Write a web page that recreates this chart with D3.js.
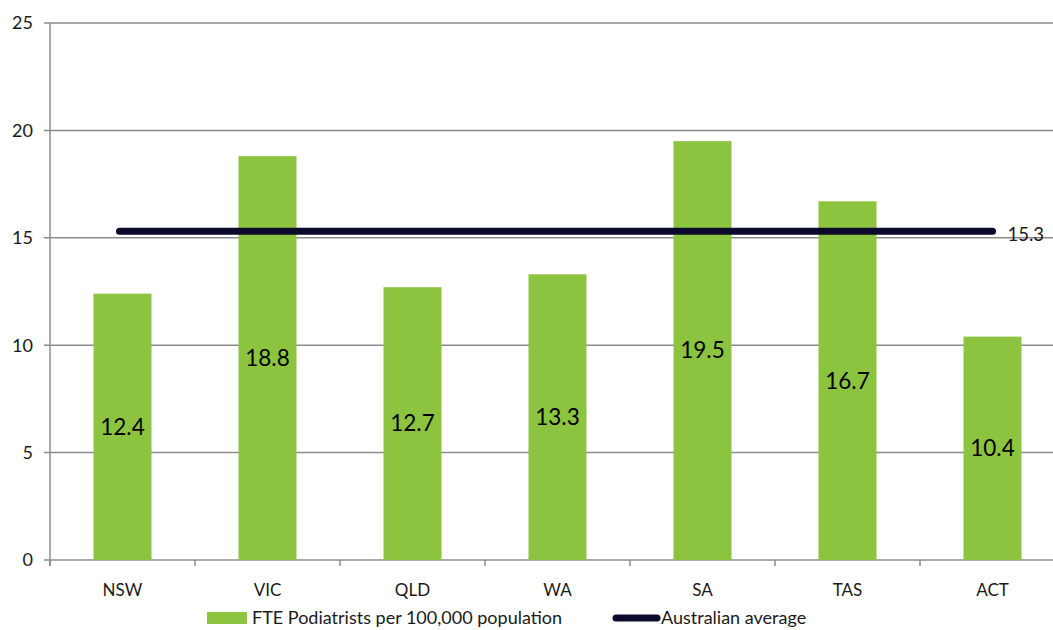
<!DOCTYPE html>
<html>
<head>
<meta charset="utf-8">
<script src="https://cdn.jsdelivr.net/npm/d3@7"></script>
<style>
	body { margin: 0; background: #fff; }
	svg text { font-family: Lato, "Open Sans", sans-serif; fill: #1a1a1a; }
</style>
</head>
<body>
<svg id="chart"></svg>
<script>
'use strict'

var states = ["NSW", "VIC", "QLD", "WA", "SA", "TAS", "ACT"];
var podiatrists = [12.4, 18.8, 12.7, 13.3, 19.5, 16.7, 10.4];
var average = [15.3];
var yTicks = [0, 5, 10, 15, 20, 25];
var legendLabels = ["FTE Podiatrists per 100,000 population", "Australian average"];

var WIDTH = 1053,
	HEIGHT = 630;

var margin = { top: 23, left: 50, bottom: 70 };
var plotRight = 1065; // plot runs slightly past the frame in the source

var barColor = "#8cc43f",
	lineColor = "#0b0a2d",
	gridColor = "#8c8c8c";

var svg = d3.select("#chart")
	.attr("width", WIDTH)
	.attr("height", HEIGHT)

var x = d3.scaleBand()
	.domain(states)
	.range([margin.left, plotRight])
	.paddingInner(0)
	.paddingOuter(0)

var y = d3.scaleLinear()
	.domain([0, 25])
	.range([HEIGHT - margin.bottom, margin.top])

// gridlines
svg.append("g")
	.selectAll("line")
	.data(yTicks)
	.join("line")
	.attr("x1", margin.left - 6)
	.attr("x2", plotRight)
	.attr("y1", function(d) { return y(d) })
	.attr("y2", function(d) { return y(d) })
	.style("stroke", gridColor)
	.style("stroke-width", 1.5)

// y tick labels
svg.append("g")
	.selectAll("text")
	.data(yTicks)
	.join("text")
	.attr("x", 33)
	.attr("y", function(d) { return y(d) })
	.attr("dy", "0.35em")
	.attr("text-anchor", "end")
	.style("font-size", "18px")
	.text(function(d) { return d })

// y axis line
svg.append("line")
	.attr("x1", margin.left)
	.attr("x2", margin.left)
	.attr("y1", y(25))
	.attr("y2", y(0) + 6)
	.style("stroke", gridColor)
	.style("stroke-width", 1.5)

// x ticks between categories
var boundaries = states.map(function(d) { return x(d) });
svg.append("g")
	.selectAll("line")
	.data(boundaries)
	.join("line")
	.attr("x1", function(d) { return d })
	.attr("x2", function(d) { return d })
	.attr("y1", y(0))
	.attr("y2", y(0) + 6)
	.style("stroke", gridColor)
	.style("stroke-width", 1.5)

// bars
var barW = x.bandwidth() * 0.4;
svg.append("g")
	.selectAll("rect")
	.data(podiatrists)
	.join("rect")
	.attr("x", function(d, i) { return x(states[i]) + (x.bandwidth() - barW) / 2 })
	.attr("y", function(d) { return y(d) })
	.attr("width", barW)
	.attr("height", function(d) { return y(0) - y(d) })
	.style("fill", barColor)

// category labels
svg.append("g")
	.selectAll("text")
	.data(states)
	.join("text")
	.attr("x", function(d) { return x(d) + x.bandwidth() / 2 })
	.attr("y", y(0) + 30)
	.attr("dy", "0.35em")
	.attr("text-anchor", "middle")
	.style("font-size", "17px")
	.text(function(d) { return d })

// average line, centre of first to centre of last category
var xFirst = x(states[0]) + x.bandwidth() / 2,
	xLast = x(states[states.length - 1]) + x.bandwidth() / 2;

svg.append("line")
	.attr("x1", xFirst - 3)
	.attr("x2", xLast)
	.attr("y1", y(average[0]))
	.attr("y2", y(average[0]))
	.style("stroke", lineColor)
	.style("stroke-width", 7)
	.style("stroke-linecap", "round")

svg.append("text")
	.attr("x", xLast + 15)
	.attr("y", y(average[0]) + 3)
	.attr("dy", "0.35em")
	.style("font-size", "18.5px")
	.text(average[0])

// bar value labels, middle of each bar
svg.append("g")
	.selectAll("text")
	.data(podiatrists)
	.join("text")
	.attr("x", function(d, i) { return x(states[i]) + x.bandwidth() / 2 })
	.attr("y", function(d) { return (y(d) + y(0)) / 2 })
	.attr("dy", "0.35em")
	.attr("text-anchor", "middle")
	.style("font-size", "22.5px")
	.style("fill", "#000")
	.text(function(d) { return d.toFixed(1) })

// legend (the source crops it at the bottom edge; keep it just inside)
var legendY = 618;
var legend = svg.append("g")

legend.append("rect")
	.attr("x", 207)
	.attr("y", legendY - 6)
	.attr("width", 40)
	.attr("height", 12)
	.style("fill", barColor)

legend.append("text")
	.attr("x", 252)
	.attr("y", legendY)
	.attr("dy", "0.35em")
	.style("font-size", "18px")
	.text(legendLabels[0])

legend.append("line")
	.attr("x1", 616)
	.attr("x2", 657)
	.attr("y1", legendY)
	.attr("y2", legendY)
	.style("stroke", lineColor)
	.style("stroke-width", 7)
	.style("stroke-linecap", "round")

legend.append("text")
	.attr("x", 661)
	.attr("y", legendY)
	.attr("dy", "0.35em")
	.style("font-size", "18px")
	.text(legendLabels[1])
</script>
</body>
</html>
